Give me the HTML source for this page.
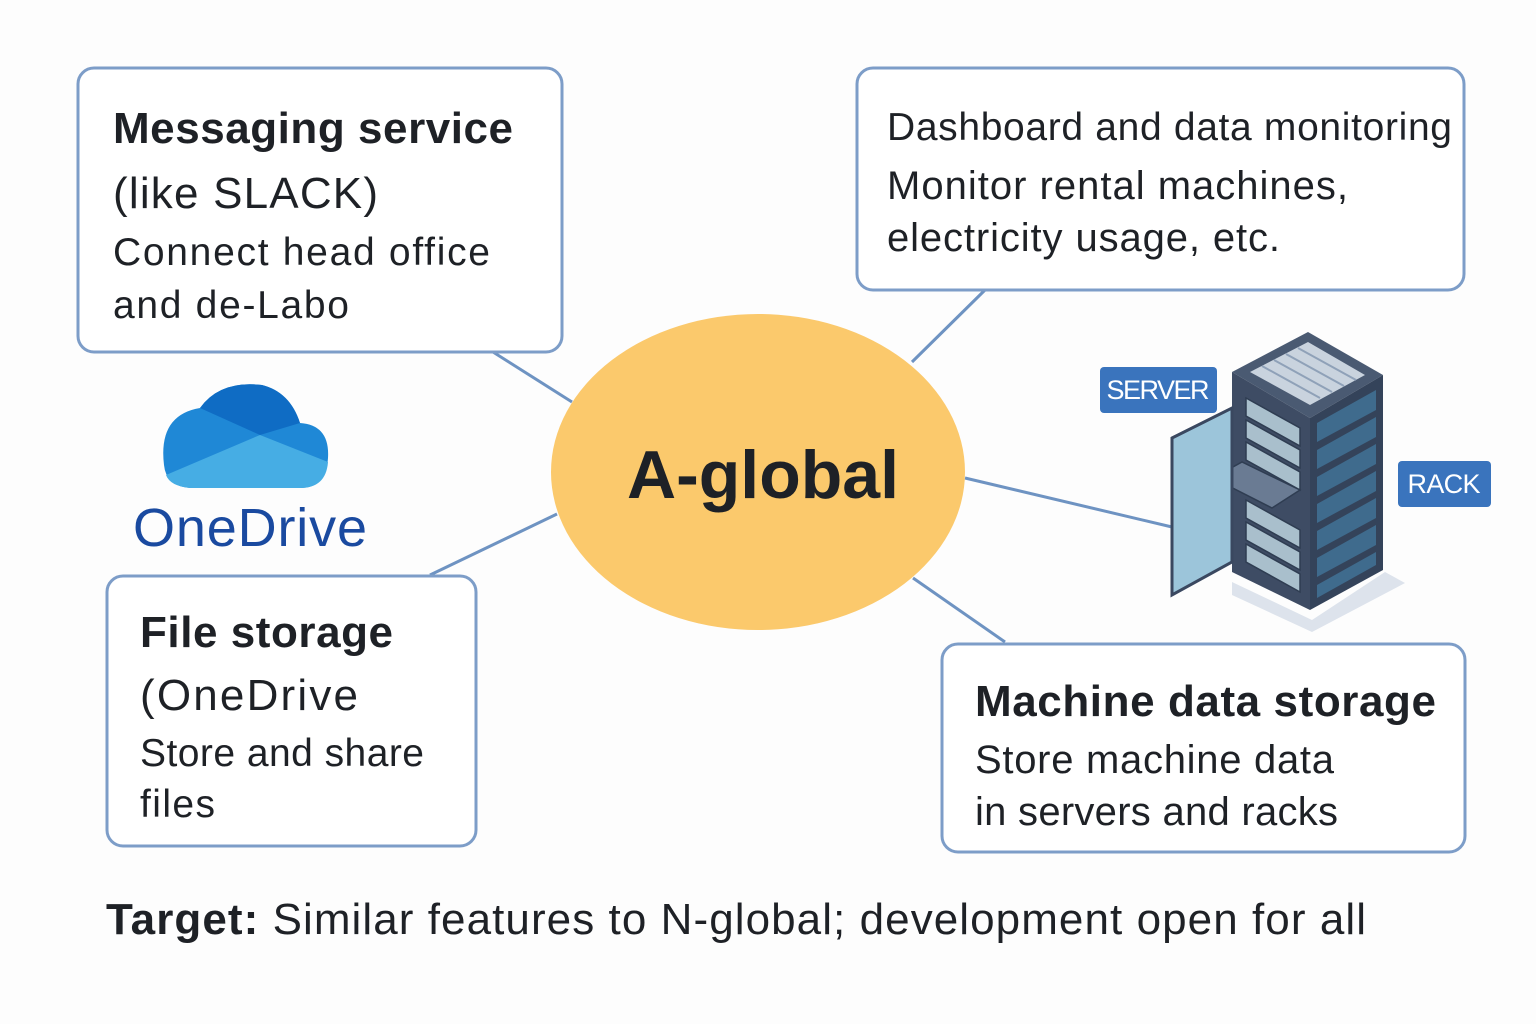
<!DOCTYPE html>
<html><head><meta charset="utf-8"><style>
body{margin:0;background:#fdfdfd;}
svg{display:block;font-family:"Liberation Sans",sans-serif;}
</style></head><body>
<svg width="1536" height="1024" viewBox="0 0 1536 1024" xmlns="http://www.w3.org/2000/svg">
<rect width="1536" height="1024" fill="#fdfdfd"/>
<g stroke="#6e93c2" stroke-width="3">
<line x1="493" y1="352" x2="572" y2="402"/>
<line x1="985" y1="290" x2="912" y2="362"/>
<line x1="965" y1="478" x2="1172" y2="527"/>
<line x1="913" y1="578" x2="1005" y2="642"/>
<line x1="557" y1="514" x2="430" y2="575"/>
</g>
<g fill="#fff" stroke="#7d9dc8" stroke-width="3">
<rect x="78" y="68" width="484" height="284" rx="16"/>
<rect x="857" y="68" width="607" height="222" rx="16"/>
<rect x="107" y="576" width="369" height="270" rx="16"/>
<rect x="942" y="644" width="523" height="208" rx="16"/>
</g>
<ellipse cx="758" cy="472" rx="207" ry="158" fill="#fbc96c"/>
<text x="627" y="498" font-size="68" font-weight="bold" fill="#1e2126" textLength="272">A-global</text>
<g fill="#1e2126">
<text x="113" y="143" font-size="44" font-weight="bold" textLength="400">Messaging service</text>
<text x="113" y="208" font-size="44" textLength="265">(like SLACK)</text>
<text x="113" y="265" font-size="39" textLength="377">Connect head office</text>
<text x="113" y="318" font-size="39" textLength="236">and de-Labo</text>
<text x="887" y="140" font-size="39" textLength="565">Dashboard and data monitoring</text>
<text x="887" y="199" font-size="40" textLength="461">Monitor rental machines,</text>
<text x="887" y="251" font-size="40" textLength="393">electricity usage, etc.</text>
<text x="140" y="647" font-size="44" font-weight="bold" textLength="253">File storage</text>
<text x="140" y="710" font-size="44" textLength="218">(OneDrive</text>
<text x="140" y="766" font-size="39" textLength="284">Store and share</text>
<text x="140" y="817" font-size="39" textLength="75">files</text>
<text x="975" y="716" font-size="44" font-weight="bold" textLength="461">Machine data storage</text>
<text x="975" y="773" font-size="40" textLength="359">Store machine data</text>
<text x="975" y="825" font-size="40" textLength="363">in servers and racks</text>
<text x="106" y="934" font-size="44" textLength="1260"><tspan font-weight="bold">Target:</tspan> Similar features to N-global; development open for all</text>
</g>
<!-- OneDrive logo -->
<g>
<path d="M164 465 Q158 415 200 408 Q220 380 262 385 Q290 392 300 423 Q330 425 328 458 Q326 488 300 488 L190 488 Q166 486 164 465Z" fill="#1f88d6"/>
<path d="M200 408 Q220 380 262 385 Q290 392 300 423 L260 435 Z" fill="#0f6cc4"/>
<path d="M166 475 L260 435 L328 462 Q326 488 300 488 L190 488 Q170 486 166 475Z" fill="#46ade4"/>
<text x="133" y="546" font-size="54" fill="#1a4aa0" textLength="234">OneDrive</text>
</g>
<!-- Server rack -->
<g>
<polygon points="1232,595 1312,632 1405,583 1385,572 1312,620 1232,582" fill="#dde3ec"/>
<polygon points="1232,372 1308,332 1383,375 1310,418" fill="#4a5a72"/>
<polygon points="1250,372 1308,342 1365,375 1310,405" fill="#c9d3de"/>
<g stroke="#8fa1b8" stroke-width="2">
<line x1="1262" y1="366" x2="1320" y2="398"/><line x1="1274" y1="360" x2="1332" y2="392"/><line x1="1286" y1="354" x2="1344" y2="386"/><line x1="1298" y1="348" x2="1356" y2="380"/>
</g>
<polygon points="1232,372 1310,418 1310,610 1232,572" fill="#3e4c64"/>
<polygon points="1310,418 1383,375 1383,570 1310,610" fill="#34435a"/>
<g fill="#3f6b8d">
<polygon points="1317,423 1376,390 1376,410 1317,442"/>
<polygon points="1317,450 1376,417 1376,437 1317,469"/>
<polygon points="1317,477 1376,444 1376,464 1317,496"/>
<polygon points="1317,504 1376,471 1376,491 1317,523"/>
<polygon points="1317,531 1376,498 1376,518 1317,550"/>
<polygon points="1317,558 1376,525 1376,545 1317,577"/>
<polygon points="1317,585 1376,552 1376,565 1317,598"/>
</g>
<g fill="#a9bfcc" stroke="#2f3d52" stroke-width="1.5">
<polygon points="1246,398 1300,428 1300,446 1246,416"/>
<polygon points="1246,420 1300,450 1300,468 1246,438"/>
<polygon points="1246,442 1300,472 1300,490 1246,460"/>
<polygon points="1246,500 1300,530 1300,548 1246,518"/>
<polygon points="1246,522 1300,552 1300,570 1246,540"/>
<polygon points="1246,544 1300,574 1300,592 1246,562"/>
</g>
<polygon points="1213,478 1242,462 1300,490 1272,508" fill="#6a7b93" stroke="#2f3d52" stroke-width="1.5"/>
<polygon points="1172,438 1232,408 1232,562 1172,595" fill="#9cc5da" stroke="#3a4860" stroke-width="3"/>
<rect x="1100" y="367" width="117" height="46" rx="4" fill="#3a74bd"/>
<text x="1158" y="399" text-anchor="middle" font-size="27" fill="#fff" textLength="103">SERVER</text>
<rect x="1398" y="461" width="93" height="46" rx="4" fill="#3a74bd"/>
<text x="1444" y="493" text-anchor="middle" font-size="27" fill="#fff" textLength="73">RACK</text>
</g>
</svg>
</body></html>
